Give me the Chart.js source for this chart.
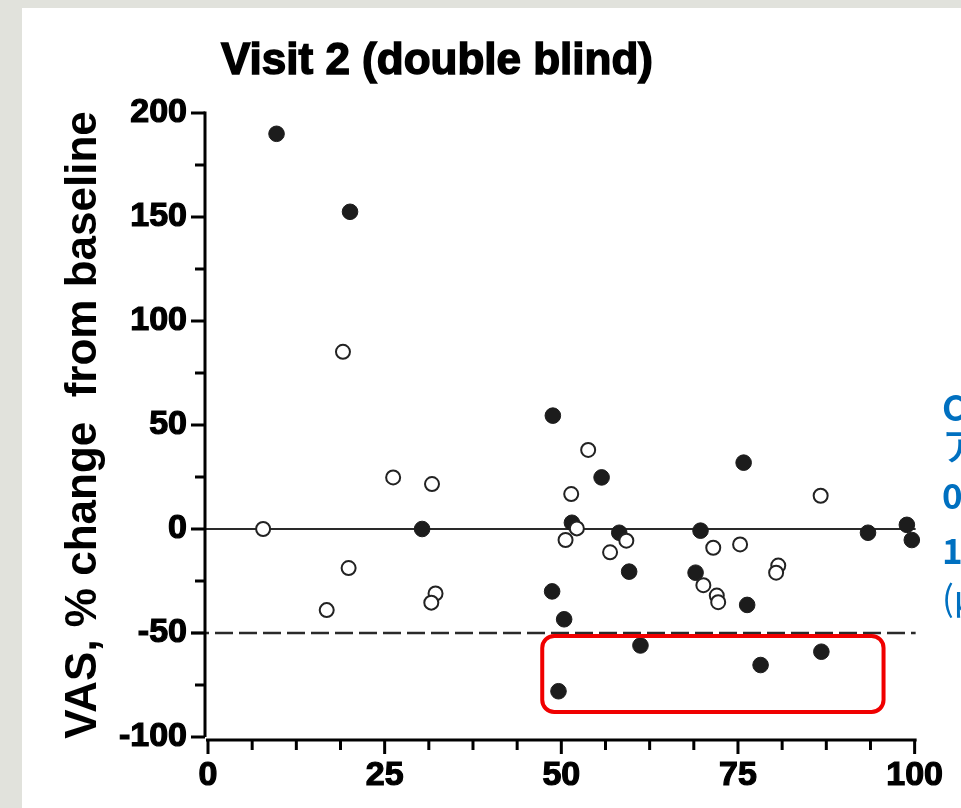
<!DOCTYPE html>
<html>
<head>
<meta charset="utf-8">
<script src="https://cdn.jsdelivr.net/npm/chart.js@4.4.1/dist/chart.umd.min.js"></script>
<style>
    html, body { margin: 0; padding: 0; }
    body { width: 961px; height: 808px; background: #e1e2dc; position: relative; overflow: hidden; }
    #panel { position: absolute; left: 22px; top: 8px; right: 0; bottom: 0; background: #fff; }
    #chart { position: absolute; left: 0; top: 0; }
    .side { position: absolute; left: 942px; color: #0070c0; font-family: "Noto Sans CJK JP", "Noto Sans", sans-serif; font-size: 35px; line-height: 1; white-space: nowrap; }
</style>
</head>
<body>
<div id="panel"></div>
<canvas id="chart" width="961" height="808"></canvas>
<div class="side" style="top:388px; font-weight:bold;">C</div>
<div class="side" style="top:425px; font-size:38px; font-weight:500;">ア</div>
<div class="side" style="top:476px; font-weight:bold;">0</div>
<div class="side" style="top:531px; font-weight:bold;">1</div>
<div class="side" style="top:578px;">(μ</div>
<script>
"use strict";

// --- data (x, % change from baseline)
const filledX = [9.7, 20.1, 30.3, 48.8, 55.7, 51.5, 58.2, 59.6, 69.7, 69.0, 75.8,
    76.3, 48.7, 50.4, 61.2, 49.6, 78.2, 86.8, 93.4, 98.9, 99.6];
const filledY = [190, 152.5, 0, 54.5, 24.8, 3, -1.8, -20.5, -0.8, -21, 31.9,
    -36.5, -30, -43.4, -56, -78, -65.4, -59, -1.8, 2, -5.3];

const openX = [7.8, 19.1, 26.2, 31.7, 19.9, 16.8, 32.2, 31.6, 53.8, 51.4, 52.2,
    50.6, 56.9, 59.2, 71.5, 75.3, 86.7, 80.7, 80.4, 70.1, 72.0, 72.2];
const openY = [0, 85.2, 24.8, 21.6, -18.8, -39, -31, -35.4, 38, 16.8, 0.3,
    -5.3, -11.2, -5.6, -9, -7.4, 16, -17.6, -21, -27, -32, -35.2];

const xRange = [0, 100];
const yRange = [-100, 200];
const xStep = 25;
const yStep = 50;
const zeroLine = 0;
const cutLine = -50;
const boxX = [47.3, 95.6];
const boxY = [-88, -51.4];

const FONT = "'Liberation Sans', Arial, sans-serif";

const toPoints = (xs, ys) => xs.map((x, i) => ({ x: x, y: ys[i] }));

// Prism-style detached axes, reference lines, highlight box, title
const prismAxes = {
    id: "prismAxes",
    beforeDatasetsDraw(chart) {
        const { ctx, scales: { x, y } } = chart;
        const axisX = x.getPixelForValue(xRange[0]) - 3;
        const axisY = y.getPixelForValue(yRange[0]) + 3;
        const right = x.getPixelForValue(xRange[1]) + 1;

        ctx.save();
        ctx.strokeStyle = "#2a2a2a";
        ctx.lineWidth = 2;
        let py = y.getPixelForValue(zeroLine);
        ctx.beginPath();
        ctx.moveTo(axisX - 14, py);
        ctx.lineTo(right, py);
        ctx.stroke();

        py = y.getPixelForValue(cutLine);
        ctx.setLineDash([18, 6]);
        ctx.lineWidth = 2.5;
        ctx.beginPath();
        ctx.moveTo(axisX - 14, py);
        ctx.lineTo(right, py);
        ctx.stroke();
        ctx.setLineDash([]);

        // y axis
        ctx.strokeStyle = "#000";
        ctx.lineWidth = 3;
        ctx.beginPath();
        ctx.moveTo(axisX, y.getPixelForValue(yRange[0]));
        ctx.lineTo(axisX, y.getPixelForValue(yRange[1]) - 1.5);
        ctx.stroke();
        for (let v = yRange[0]; v <= yRange[1]; v += yStep / 2) {
            const len = v % yStep === 0 ? 14 : 10;
            const p = y.getPixelForValue(v);
            ctx.beginPath();
            ctx.moveTo(axisX - len, p);
            ctx.lineTo(axisX, p);
            ctx.stroke();
        }

        // x axis
        ctx.beginPath();
        ctx.moveTo(axisX + 1, axisY);
        ctx.lineTo(right + 1, axisY);
        ctx.stroke();
        for (let v = xRange[0]; v <= xRange[1]; v += xStep / 4) {
            const len = v % xStep === 0 ? 14 : 10;
            const p = x.getPixelForValue(v);
            ctx.beginPath();
            ctx.moveTo(p, axisY);
            ctx.lineTo(p, axisY + len);
            ctx.stroke();
        }
        ctx.restore();
    },
    afterDatasetsDraw(chart) {
        const { ctx, scales: { x, y } } = chart;
        const x0 = x.getPixelForValue(boxX[0]);
        const x1 = x.getPixelForValue(boxX[1]);
        const y0 = y.getPixelForValue(boxY[1]);
        const y1 = y.getPixelForValue(boxY[0]);
        ctx.save();
        ctx.strokeStyle = "#f00000";
        ctx.lineWidth = 4;
        ctx.beginPath();
        ctx.roundRect(x0, y0, x1 - x0, y1 - y0, 12);
        ctx.stroke();

        ctx.fillStyle = "#000";
        ctx.strokeStyle = "#000";
        ctx.lineWidth = 1.5;
        ctx.font = "bold 44px " + FONT;
        ctx.textAlign = "center";
        ctx.textBaseline = "alphabetic";
        ctx.fillText("Visit 2 (double blind)", 437, 74);
        ctx.strokeText("Visit 2 (double blind)", 437, 74);
        ctx.restore();
    },
};

const tickFont = { family: FONT, size: 34, weight: "bold" };

new Chart(document.getElementById("chart"), {
    type: "scatter",
    data: {
        datasets: [
            {
                label: "open",
                data: toPoints(openX, openY),
                pointRadius: 7,
                borderWidth: 2,
                backgroundColor: "#ffffff",
                borderColor: "#222222",
                clip: false,
            },
            {
                label: "filled",
                data: toPoints(filledX, filledY),
                pointRadius: 7.8,
                borderWidth: 1,
                backgroundColor: "#1c1c1c",
                borderColor: "#1c1c1c",
                clip: false,
            },
        ],
    },
    options: {
        responsive: false,
        animation: false,
        layout: { padding: { top: 113, right: 45, bottom: 0, left: 0 } },
        plugins: {
            legend: { display: false },
            tooltip: { enabled: false },
        },
        scales: {
            x: {
                type: "linear",
                min: xRange[0],
                max: xRange[1],
                grid: { display: false, drawTicks: false },
                border: { display: false },
                ticks: {
                    stepSize: xStep, padding: 18, color: "#000", font: tickFont,
                    textStrokeColor: "#000", textStrokeWidth: 1.2, maxRotation: 0, autoSkip: false,
                },
                afterFit: (s) => { s.height = 71; },
            },
            y: {
                type: "linear",
                min: yRange[0],
                max: yRange[1],
                grid: { display: false, drawTicks: false },
                border: { display: false },
                ticks: {
                    stepSize: yStep, padding: 21, color: "#000", font: tickFont,
                    textStrokeColor: "#000", textStrokeWidth: 1.2, autoSkip: false,
                },
                title: {
                    display: true,
                    text: "VAS, % change  from baseline",
                    color: "#000",
                    font: { family: FONT, size: 44, weight: "bold" },
                    padding: { top: 57, bottom: 0 },
                },
                afterFit: (s) => { s.width = 208; },
            },
        },
    },
    plugins: [prismAxes],
});
</script>
</body>
</html>
